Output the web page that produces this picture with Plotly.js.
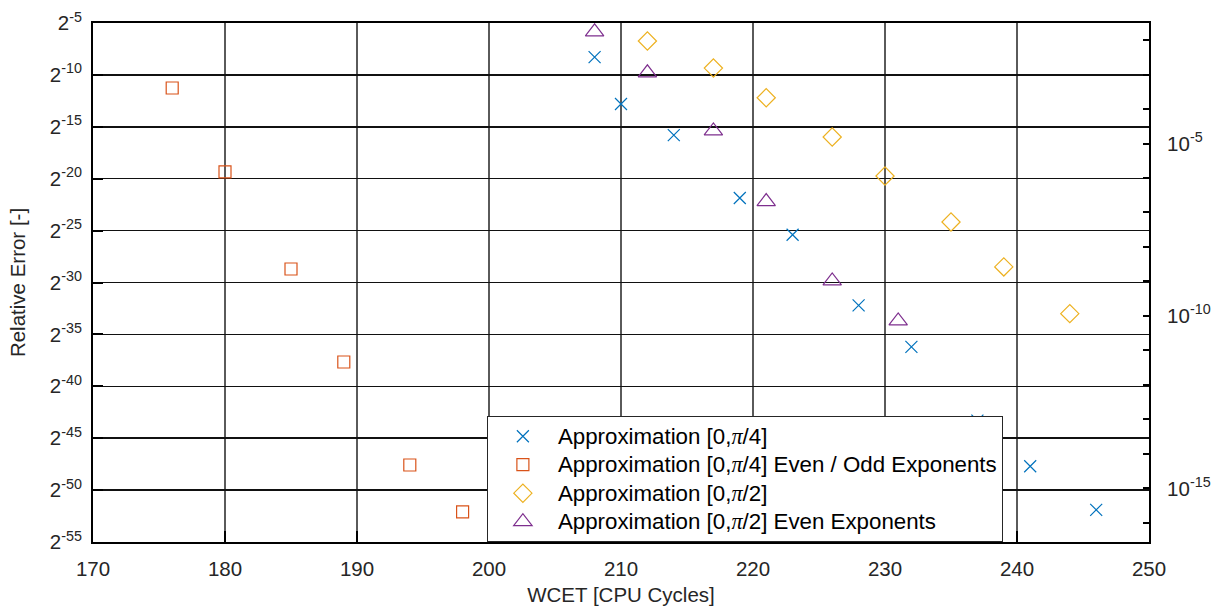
<!DOCTYPE html>
<html>
<head>
<meta charset="utf-8">
<script src="https://cdn.plot.ly/plotly-3.0.1.min.js"></script>
<style>html,body{margin:0;padding:0;background:#fff;}#chart{width:1220px;height:606px;}</style>
</head>
<body>
<div id="chart"></div>
<script>
// Data (y given as log2 exponents of the relative error)
const seriesNames = [
  "Approximation [0,\u03C0/4]",
  "Approximation [0,\u03C0/4] Even / Odd Exponents",
  "Approximation [0,\u03C0/2]",
  "Approximation [0,\u03C0/2] Even Exponents"
];
const quarterX   = [208, 210, 214, 219, 223, 228, 232, 237, 241, 246];
const quarterExp = [-8.28, -12.8, -15.8, -21.86, -25.4, -32.2, -36.2, -43.3, -47.7, -51.9];
const evenOddX   = [176, 180, 185, 189, 194, 198];
const evenOddExp = [-11.26, -19.35, -28.7, -37.66, -47.58, -52.1];
const halfX      = [212, 217, 221, 226, 230, 235, 239, 244];
const halfExp    = [-6.73, -9.34, -12.2, -15.98, -19.74, -24.17, -28.5, -33.0];
const halfEvenX  = [208, 212, 217, 221, 226, 231];
const halfEvenExp= [-5.85, -9.8, -15.4, -22.2, -29.85, -33.7];

const leftTickExps  = [-5, -10, -15, -20, -25, -30, -35, -40, -45, -50, -55];
const rightTickExps = [-2, -3, -4, -5, -6, -7, -8, -9, -10, -11, -12, -13, -14, -15, -16];
const rightLabeled  = [-5, -10, -15];
const xTicks = [170, 180, 190, 200, 210, 220, 230, 240, 250];

const pow2 = e => Math.pow(2, e);
const pow10 = e => Math.pow(10, e);
const colors = ["#0072BD", "#D95319", "#EDB120", "#7E2F8E"];
const symbols = ["x-thin-open", "square-open", "diamond-open", "triangle-up-open"];
const sizes = [12, 12, 14, 16];
const xs = [quarterX, evenOddX, halfX, halfEvenX];
const es = [quarterExp, evenOddExp, halfExp, halfEvenExp];

// legend label: pi drawn as italic serif like the TeX rendering
const legendLabel = s => '<span style="font-size:22.3px">' +
  s.replace("\u03C0", '<span style="font-family:Liberation Serif;font-style:italic">\u03C0</span>') + '</span>';

const traces = xs.map((x, i) => ({
  type: "scatter",
  mode: "markers",
  name: legendLabel(seriesNames[i]),
  x: x,
  y: es[i].map(pow2),
  marker: {symbol: symbols[i], size: sizes[i], color: colors[i], line: {color: colors[i], width: 1.2}},
  hoverinfo: "x+y"
}));
// invisible traces to activate the right-hand axes
traces.push({type: "scatter", mode: "markers", x: [170], y: [pow2(-30)], yaxis: "y2",
  marker: {opacity: 0}, showlegend: false, hoverinfo: "skip"});
traces.push({type: "scatter", mode: "markers", x: [170], y: [pow2(-30)], yaxis: "y3",
  marker: {opacity: 0}, showlegend: false, hoverinfo: "skip"});

const yRange = [-55 * Math.LOG10E * Math.LN2, -5 * Math.LOG10E * Math.LN2];
const font = "Liberation Sans, Arial, Helvetica, sans-serif";
const fs = 20.5;

const layout = {
  width: 1220, height: 606,
  margin: {l: 93, r: 71, t: 23, b: 64},
  paper_bgcolor: "#fff", plot_bgcolor: "#fff",
  font: {family: font, size: fs, color: "#262626"},
  showlegend: true,
  xaxis: {
    range: [170, 250], tickvals: xTicks, ticktext: xTicks.map(String),
    showgrid: true, gridcolor: "#5a5a5a", gridwidth: 1.5,
    zeroline: false, showline: true, linecolor: "#000", linewidth: 2, mirror: true,
    ticks: "inside", ticklen: 11, tickwidth: 2, tickcolor: "#000",
    ticklabelstandoff: 7,
    tickfont: {size: fs, color: "#262626"},
    title: {text: "WCET [CPU Cycles]", font: {size: fs, color: "#262626"}, standoff: 16}
  },
  yaxis: {
    type: "log", range: yRange,
    tickvals: leftTickExps.map(pow2),
    ticktext: leftTickExps.map(e => "2<sup>" + e + "</sup>"),
    showgrid: true, gridcolor: "#111", gridwidth: 1.5,
    zeroline: false, showline: true, linecolor: "#000", linewidth: 2,
    ticks: "inside", ticklen: 10, tickwidth: 2, tickcolor: "#000",
    ticklabelstandoff: 5,
    tickfont: {size: fs, color: "#262626"},
    title: {text: "Relative Error [-]", font: {size: fs, color: "#262626"}, standoff: 19}
  },
  yaxis2: {
    type: "log", range: yRange, overlaying: "y", side: "right",
    tickvals: rightLabeled.map(pow10),
    ticktext: rightLabeled.map(e => "10<sup>" + e + "</sup>"),
    showgrid: false, zeroline: false, showline: true, linecolor: "#000", linewidth: 2,
    ticks: "inside", ticklen: 6, tickwidth: 2, tickcolor: "#000",
    ticklabelstandoff: 12,
    tickfont: {size: fs, color: "#262626"}
  },
  yaxis3: {
    type: "log", range: yRange, overlaying: "y", side: "right",
    tickvals: rightTickExps.map(pow10), showticklabels: false,
    showgrid: false, zeroline: false, showline: false,
    ticks: "inside", ticklen: 6, tickwidth: 2, tickcolor: "#000"
  },
  legend: {
    x: 0.373, y: 0, xanchor: "left", yanchor: "bottom",
    bgcolor: "#fff", bordercolor: "#262626", borderwidth: 1,
    font: {family: font, size: 19.6, color: "#000"},
    itemwidth: 60, tracegroupgap: 0
  }
};

Plotly.newPlot("chart", traces, layout, {displayModeBar: false, staticPlot: true});
</script>
</body>
</html>
